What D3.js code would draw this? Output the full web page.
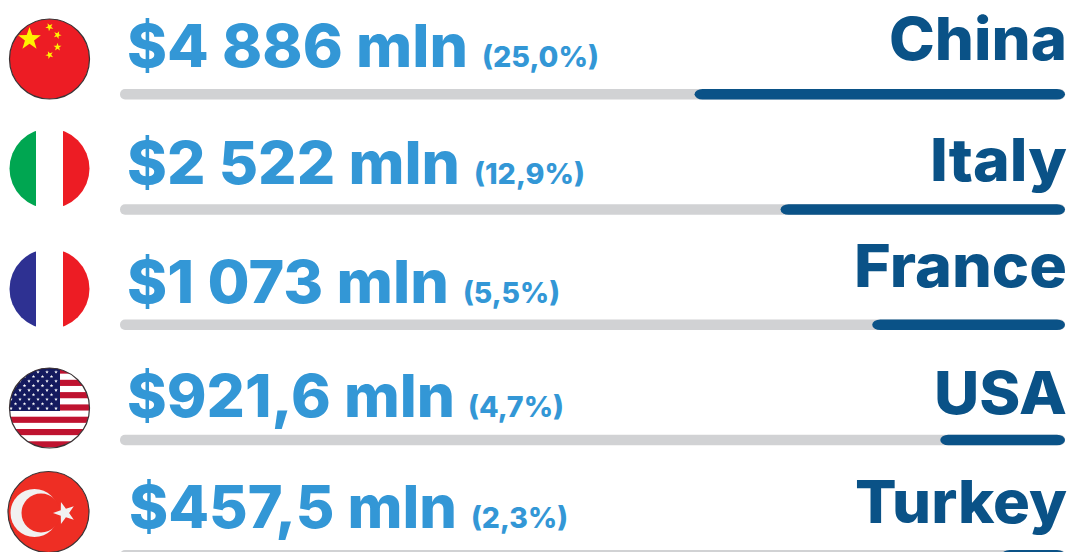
<!DOCTYPE html>
<html>
<head>
<meta charset="utf-8">
<script src="https://cdn.jsdelivr.net/npm/d3@7"></script>
<style>
    html, body { margin: 0; padding: 0; background: #fff; overflow: hidden; }
    text { font-family: "Inter", sans-serif; font-weight: 800; }
</style>
</head>
<body>
<script>
// chart values
var countries = ["China", "Italy", "France", "USA", "Turkey"];
var amounts = ["$4 886 mln", "$2 522 mln", "$1 073 mln", "$921,6 mln", "$457,5 mln"];
var shares = ["(25,0%)", "(12,9%)", "(5,5%)", "(4,7%)", "(2,3%)"];
// the bars are not to scale with the shares, so keep their own length (% of the track)
var barLengths = [39.2, 30.1, 20.4, 13.2, 6.7];

var width = 1070,
    height = 552;

var svg = d3.select("body").append("svg")
    .attr("width", width)
    .attr("height", height);

var trackLeft = 120, trackRight = 1065, barHeight = 10.5;

var y = d3.scalePoint().domain(countries).range([89, 550]);
var x = d3.scaleLinear().domain([0, 100]).range([0, trackRight - trackLeft]);

// text placement per row, nudged by eye
var amountBase = [67, 184, 303, 417, 528];
var nameBase = [60, 181, 287, 414, 523];
var amountRight = [468, 460, 449, 455, 457];
var shareLeft = [482, 474, 463, 468, 471];
var shareRight = [599, 585, 560, 564, 568];
var nameLeft = [889, 930, 854, 934, 855];
var amountLeft = [127, 127, 127, 127, 129];

var rows = svg.selectAll("g.row")
    .data(countries)
    .enter().append("g")
    .attr("class", "row");

// grey track
rows.append("rect")
    .attr("x", trackLeft)
    .attr("y", d => y(d))
    .attr("width", trackRight - trackLeft)
    .attr("height", barHeight)
    .attr("rx", 5)
    .style("fill", "#d1d2d4");

// dark value bar, anchored on the right
rows.append("rect")
    .attr("x", (d, i) => trackRight - x(barLengths[i]))
    .attr("y", d => y(d))
    .attr("width", (d, i) => x(barLengths[i]))
    .attr("height", barHeight)
    .attr("rx", 8)
    .attr("ry", 5.25)
    .style("fill", "#0a5287");

rows.append("text")
    .attr("x", (d, i) => amountLeft[i])
    .attr("y", (d, i) => amountBase[i])
    .attr("textLength", (d, i) => amountRight[i] - amountLeft[i])
    .attr("lengthAdjust", "spacingAndGlyphs")
    .style("font-size", "59px")
    .style("fill", "#3397d6")
    .text((d, i) => amounts[i]);

rows.append("text")
    .attr("x", (d, i) => shareLeft[i])
    .attr("y", (d, i) => amountBase[i])
    .attr("textLength", (d, i) => shareRight[i] - shareLeft[i])
    .attr("lengthAdjust", "spacingAndGlyphs")
    .style("font-size", "28px")
    .style("fill", "#3397d6")
    .text((d, i) => shares[i]);

rows.append("text")
    .attr("x", (d, i) => nameLeft[i])
    .attr("y", (d, i) => nameBase[i])
    .attr("textLength", (d, i) => 1067 - nameLeft[i])
    .attr("lengthAdjust", "spacingAndGlyphs")
    .style("font-size", "59px")
    .style("fill", "#0a5287")
    .text(d => d);

// five pointed star path
function star(cx, cy, r, rot) {
    var pts = d3.range(10).map(function(k) {
        var a = (rot || 0) - Math.PI / 2 + k * Math.PI / 5,
            rr = k % 2 ? r * 0.4 : r;
        return [cx + rr * Math.cos(a), cy + rr * Math.sin(a)];
    });
    return "M" + pts.join("L") + "Z";
}

// flag helper: clipped circle
var defs = svg.append("defs");
function flag(id, cx, cy, r, border) {
    defs.append("clipPath").attr("id", id)
        .append("circle").attr("cx", cx).attr("cy", cy).attr("r", r);
    var g = svg.append("g");
    var inner = g.append("g").attr("clip-path", "url(#" + id + ")");
    if (border) {
        g.append("circle").attr("cx", cx).attr("cy", cy).attr("r", r)
            .style("fill", "none").style("stroke", "#3a3335").style("stroke-width", 1.2);
    }
    return inner;
}

// China
var cn = flag("cn", 49.5, 59, 40, true);
cn.append("rect").attr("x", 9).attr("y", 19).attr("width", 81).attr("height", 80).style("fill", "#ed1c24");
cn.append("path").attr("d", star(29.5, 39, 12)).style("fill", "#fff200");
[[49.5, 27, -0.5], [57.5, 35, 0.4], [57.5, 47, 0], [49.5, 55, -0.4]].forEach(function(s) {
    cn.append("path").attr("d", star(s[0], s[1], 4.2, s[2])).style("fill", "#fff200");
});

// Italy
var it = flag("it", 49.5, 168.5, 40, false);
it.append("rect").attr("x", 9).attr("y", 128).attr("width", 27).attr("height", 81).style("fill", "#00a651");
it.append("rect").attr("x", 63).attr("y", 128).attr("width", 27).attr("height", 81).style("fill", "#ed1c24");

// France
var fr = flag("fr", 49.5, 289, 40, false);
fr.append("rect").attr("x", 9).attr("y", 249).attr("width", 27).attr("height", 80).style("fill", "#2e3192");
fr.append("rect").attr("x", 63).attr("y", 249).attr("width", 27).attr("height", 80).style("fill", "#ed1c24");

// USA
var us = flag("us", 49.5, 408, 40, true);
us.append("rect").attr("x", 9).attr("y", 368).attr("width", 81).attr("height", 80).style("fill", "#fff");
d3.range(7).forEach(function(k) {
    us.append("rect").attr("x", 9).attr("y", 368 + k * 12.3 - 0.5).attr("width", 81).attr("height", 6.15)
        .style("fill", "#bf1330");
});
us.append("rect").attr("x", 9).attr("y", 368).attr("width", 51).attr("height", 43).style("fill", "#141a5e");
d3.range(9).forEach(function(r) {
    var n = r % 2 ? 5 : 6, off = r % 2 ? 9.2 : 4.7;
    d3.range(n).forEach(function(c) {
        us.append("path")
            .attr("d", star(11 + off + c * 9 - 4.7, 372 + r * 4.55, 1.9))
            .style("fill", "#fff");
    });
});

// Turkey
var tr = flag("tr", 48.5, 512, 40.5, true);
tr.append("rect").attr("x", 7).attr("y", 471).attr("width", 83).attr("height", 82).style("fill", "#ee2e24");
tr.append("circle").attr("cx", 34.5).attr("cy", 513).attr("r", 24).style("fill", "#f1f1f1");
tr.append("circle").attr("cx", 41).attr("cy", 513).attr("r", 19.5).style("fill", "#ee2e24");
tr.append("path").attr("d", star(64.5, 513, 11.5, -Math.PI / 2)).style("fill", "#f1f1f1");
</script>
</body>
</html>
